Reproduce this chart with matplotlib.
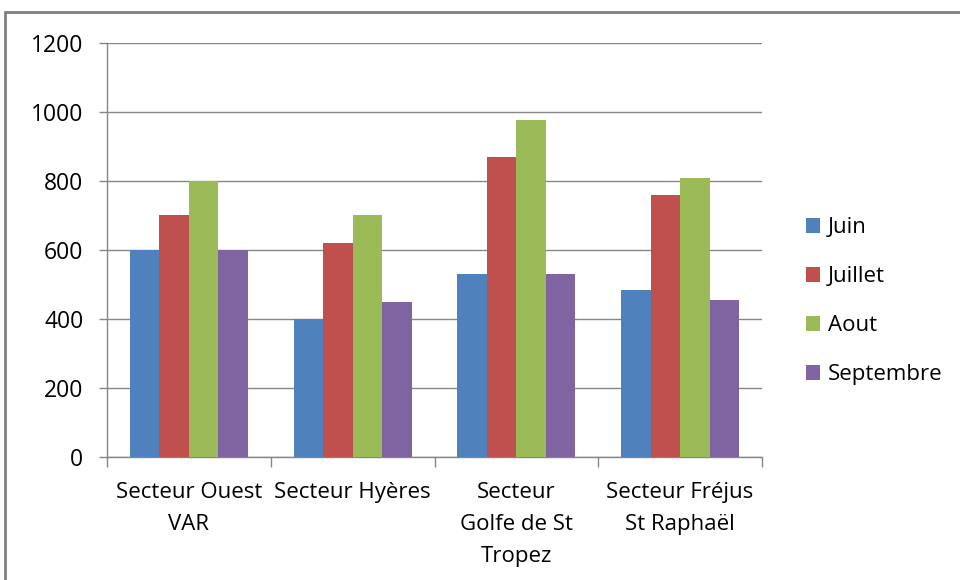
import matplotlib
matplotlib.use("Agg")
import matplotlib.pyplot as plt
import numpy as np
from matplotlib.patches import Rectangle

categories = ["Secteur Ouest\nVAR", "Secteur Hyères", "Secteur\nGolfe de St\nTropez", "Secteur Fréjus\nSt Raphaël"]
series_names = ["Juin", "Juillet", "Aout", "Septembre"]
juin = [600, 400, 530, 485]
juillet = [700, 620, 870, 760]
aout = [800, 700, 978, 808]
septembre = [600, 450, 530, 455]
colors = ["#4F81BD", "#C0504D", "#9BBB59", "#8064A2"]
yticks = [0, 200, 400, 600, 800, 1000, 1200]

plt.rcParams['font.family'] = ['Open Sans', 'DejaVu Sans']

fig = plt.figure(figsize=(9.6, 5.8), dpi=100)
ax = fig.add_axes([107/960, 1-457/580, (762-107)/960, (457-43)/580])

# outer border
fig.patches.append(Rectangle((5/960, -0.05), 1.1, 1-12/580+0.05, transform=fig.transFigure,
                             fill=False, edgecolor="#808080", linewidth=2))

x = np.arange(len(categories))
w = 0.18
data = [juin, juillet, aout, septembre]
for i, (name, vals) in enumerate(zip(series_names, data)):
    ax.bar(x + (i - 1.5) * w, vals, width=w, color=colors[i], label=name, zorder=3)

ax.set_xlim(-0.5, len(categories) - 0.5)
ax.set_ylim(0, 1200)
ax.set_yticks(yticks)
ax.set_yticklabels([str(t) for t in yticks], fontsize=16.5)
ax.yaxis.grid(True, color="#868686", linewidth=1, zorder=0)
ax.set_axisbelow(True)

ax.set_xticks(x)
ax.set_xticklabels(categories, fontsize=16, linespacing=1.68, va="top")
ax.tick_params(axis="x", length=0, pad=18)
ax.set_xticks(np.arange(-0.5, len(categories)), minor=True)
ax.tick_params(axis="x", which="minor", length=7, color="#868686", width=1)
ax.tick_params(axis="y", length=6, color="#868686", width=1, pad=11)

for s in ["top", "right"]:
    ax.spines[s].set_visible(False)
for s in ["left", "bottom"]:
    ax.spines[s].set_color("#868686")
    ax.spines[s].set_linewidth(1)

handles, labels = ax.get_legend_handles_labels()
leg = fig.legend(handles, labels, loc="center left", bbox_to_anchor=(786/960, 1-301/580),
                 frameon=False, fontsize=16, handlelength=0.65, handleheight=0.65,
                 handletextpad=0.35, labelspacing=1.26)

fig.savefig("out.png", dpi=100)
